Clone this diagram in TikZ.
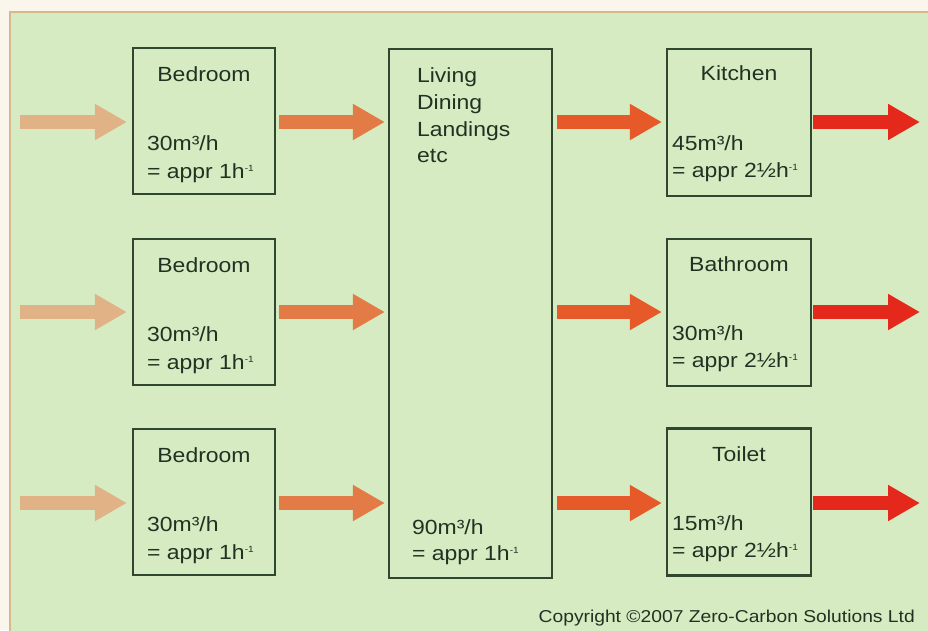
\documentclass[tikz,border=0pt]{standalone}
\usepackage{fontspec}
\setmainfont{Liberation Sans}[FakeStretch=1.12]
\usetikzlibrary{arrows.meta,calc}
\definecolor{bgout}{HTML}{FAF6EC}
\definecolor{panel}{HTML}{D7EBC3}
\definecolor{framecol}{HTML}{D4B98C}
\definecolor{boxline}{HTML}{2E472E}
\definecolor{ink}{HTML}{223222}
\definecolor{arrA}{HTML}{E0B286}
\definecolor{arrB}{HTML}{E27B45}
\definecolor{arrC}{HTML}{E55A28}
\definecolor{arrD}{HTML}{E4281C}
\newcommand{\supm}{\raisebox{7pt}{\fontsize{9}{9}\selectfont -1}}
\begin{document}
\begin{tikzpicture}[x=1pt,y=-1pt,
  room/.style={draw=boxline, line width=2.2pt, minimum width=142pt, minimum height=146pt, inner sep=0pt},
  roomw/.style={room, minimum width=144pt, minimum height=147pt},
  titletext/.style={font=\fontsize{20.5}{24}\selectfont, text=ink, anchor=base, inner sep=0pt},
  valtext/.style={font=\fontsize{20.5}{24}\selectfont, text=ink, anchor=base west, inner sep=0pt},
  flow/.style={line width=14pt, -{Triangle[length=32pt,width=34pt]}},
  copytext/.style={font=\fontsize{17.2}{20}\selectfont, text=ink, anchor=base east, inner sep=0pt}]
\useasboundingbox (0,0) rectangle (928,630);
\fill[bgout] (0,0) rectangle (928,630);
\draw[framecol, line width=1.5pt, fill=panel] (10,12) rectangle (945,650);

% boxes
\node[room] (b1) at (204,121) {};
\node[room] (b2) at (204,312) {};
\node[room] (b3) at (204,502) {};
\node[room, minimum width=163pt, minimum height=529pt] (liv) at (470.5,313.5) {};
\node[roomw] (k) at (739,122.5) {};
\node[roomw] (ba) at (739,312.5) {};
\node[roomw] (t) at (739,502) {};

% bedroom texts
\node[titletext] (b1t) at ($(b1.north)+(0,35)$) {Bedroom};
\node[valtext] (b1v) at ($(b1.north west)+(15,104)$) {30m³/h};
\node[valtext] (b1r) at ($(b1.north west)+(15,132)$) {= appr 1h\supm};
\node[titletext] (b2t) at ($(b2.north)+(0,35)$) {Bedroom};
\node[valtext] (b2v) at ($(b2.north west)+(15,104)$) {30m³/h};
\node[valtext] (b2r) at ($(b2.north west)+(15,132)$) {= appr 1h\supm};
\node[titletext] (b3t) at ($(b3.north)+(0,35)$) {Bedroom};
\node[valtext] (b3v) at ($(b3.north west)+(15,104)$) {30m³/h};
\node[valtext] (b3r) at ($(b3.north west)+(15,132)$) {= appr 1h\supm};

% living texts
\node[valtext] (l1) at ($(liv.north west)+(29,35)$) {Living};
\node[valtext] (l2) at ($(liv.north west)+(29,62)$) {Dining};
\node[valtext] (l3) at ($(liv.north west)+(29,89)$) {Landings};
\node[valtext] (l4) at ($(liv.north west)+(29,115)$) {etc};
\node[valtext] (lv) at ($(liv.south west)+(24,-45)$) {90m³/h};
\node[valtext] (lr) at ($(liv.south west)+(24,-19)$) {= appr 1h\supm};

% wet rooms texts
\node[titletext] (kt) at ($(k.north)+(0,33)$) {Kitchen};
\node[valtext] (kv) at ($(k.north west)+(6,103)$) {45m³/h};
\node[valtext] (kr) at ($(k.north west)+(6,130)$) {= appr 2½h\supm};
\node[titletext] (bat) at ($(ba.north)+(0,34)$) {Bathroom};
\node[valtext] (bav) at ($(ba.north west)+(6,103)$) {30m³/h};
\node[valtext] (bar) at ($(ba.north west)+(6,130)$) {= appr 2½h\supm};
\node[titletext] (tt) at ($(t.north)+(0,34)$) {Toilet};
\node[valtext] (tv) at ($(t.north west)+(6,103)$) {15m³/h};
\node[valtext] (tr) at ($(t.north west)+(6,130)$) {= appr 2½h\supm};

% free ends
\coordinate (in1) at (20,122);
\coordinate (in2) at (20,312);
\coordinate (in3) at (20,503);
\coordinate (out1) at (920,122);
\coordinate (out2) at (920,312);
\coordinate (out3) at (920,503);

% arrows
\draw[flow, arrA, shorten >=5pt] (in1) -- (in1 -| b1.west);
\draw[flow, arrA, shorten >=5pt] (in2) -- (in2 -| b2.west);
\draw[flow, arrA, shorten >=5pt] (in3) -- (in3 -| b3.west);
\draw[flow, arrB, shorten <=3pt, shorten >=3pt] (in1 -| b1.east) -- (in1 -| liv.west);
\draw[flow, arrB, shorten <=3pt, shorten >=3pt] (in2 -| b2.east) -- (in2 -| liv.west);
\draw[flow, arrB, shorten <=3pt, shorten >=3pt] (in3 -| b3.east) -- (in3 -| liv.west);
\draw[flow, arrC, shorten <=4pt, shorten >=4pt] (in1 -| liv.east) -- (in1 -| k.west);
\draw[flow, arrC, shorten <=4pt, shorten >=4pt] (in2 -| liv.east) -- (in2 -| ba.west);
\draw[flow, arrC, shorten <=4pt, shorten >=4pt] (in3 -| liv.east) -- (in3 -| t.west);
\draw[flow, arrD, shorten <=1pt] (out1 -| k.east) -- (out1);
\draw[flow, arrD, shorten <=1pt] (out2 -| ba.east) -- (out2);
\draw[flow, arrD, shorten <=1pt] (out3 -| t.east) -- (out3);

\node[copytext] (copy) at (915,622) {Copyright ©2007 Zero-Carbon Solutions Ltd};
\end{tikzpicture}
\end{document}
